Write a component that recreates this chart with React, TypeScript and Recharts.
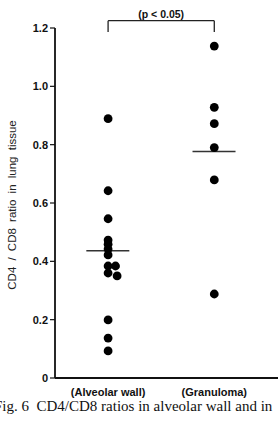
import React from "react";
import {
  ComposedChart,
  Scatter,
  XAxis,
  YAxis,
  ReferenceLine,
} from "recharts";

const categories = ["(Alveolar  wall)", "(Granuloma)"];
const alveolarValues = [0.889, 0.642, 0.546, 0.473, 0.459, 0.442, 0.422, 0.384, 0.384, 0.36, 0.35, 0.199, 0.137, 0.093];
const alveolarJitter = [0, 0, 0, 0, 0, 0, 0, 0, 0.07, 0, 0.085, 0, 0, 0];
const granulomaValues = [1.138, 0.928, 0.872, 0.79, 0.679, 0.288];
const groupMeans = [0.436, 0.777];
const yTicks = [0, 0.2, 0.4, 0.6, 0.8, 1.0, 1.2];
const pLabel = "(p < 0.05)";
const yLabel = "CD4 / CD8 ratio in lung tissue";
const caption = "Fig. 6\u00a0 CD4/CD8 ratios in alveolar wall and in";

const alveolarData = alveolarValues.map((v, i) => ({ x: 0 + alveolarJitter[i], y: v }));
const granulomaData = granulomaValues.map((v) => ({ x: 1, y: v }));

const Dot = (props: any) => {
  const { cx, cy } = props;
  if (cx == null || cy == null) return null;
  return <circle cx={cx} cy={cy} r={4.4} fill="#000" />;
};

const INK = "#111";
const SANS = "Liberation Sans, Arial, sans-serif";

export default function App() {
  return (
    <div
      style={{
        position: "absolute",
        left: 0,
        top: 0,
        width: 278,
        height: 421,
        overflow: "hidden",
        background: "#fff",
      }}
    >
      <ComposedChart
        width={278}
        height={421}
        margin={{ top: 28, right: 0, bottom: 23, left: 0 }}
      >
        <XAxis
          type="number"
          dataKey="x"
          domain={[-0.5, 1.6]}
          ticks={[0, 1]}
          tickFormatter={(i: number) => categories[i]}
          tickLine={false}
          height={20}
          tickMargin={4}
          axisLine={{ stroke: INK, strokeWidth: 1.8 }}
          tick={{ fill: INK, fontSize: 11, fontWeight: "bold", fontFamily: SANS, style: { whiteSpace: "pre" } }}
          allowDataOverflow
        />
        <YAxis
          type="number"
          dataKey="y"
          domain={[0, 1.2]}
          ticks={yTicks}
          width={55}
          tickSize={5}
          tickMargin={2}
          tickFormatter={(v: number) => (v === 0 ? "0" : v.toFixed(1))}
          axisLine={{ stroke: INK, strokeWidth: 1.8 }}
          tickLine={{ stroke: INK, strokeWidth: 1.2 }}
          tick={{ fill: INK, fontSize: 11, fontWeight: "bold", fontFamily: SANS }}
          label={{
            value: yLabel,
            angle: -90,
            position: "center",
            dx: -16,
            dy: 2,
            style: { fill: "#222", fontSize: 11.5, fontFamily: SANS, textAnchor: "middle", wordSpacing: 3 },
          }}
        />
        <ReferenceLine
          segment={[{ x: 0, y: 1.225 }, { x: 1, y: 1.225 }]}
          stroke="#222"
          strokeWidth={1.3}
          ifOverflow="visible"
          label={{
            value: pLabel,
            position: "top",
            offset: 3,
            style: { fill: INK, fontSize: 10.5, fontWeight: "bold", fontFamily: SANS },
          }}
        />
        <ReferenceLine segment={[{ x: 0, y: 1.225 }, { x: 0, y: 1.186 }]} stroke="#222" strokeWidth={1.3} ifOverflow="visible" />
        <ReferenceLine segment={[{ x: 1, y: 1.225 }, { x: 1, y: 1.186 }]} stroke="#222" strokeWidth={1.3} ifOverflow="visible" />
        {groupMeans.map((m, i) => (
          <ReferenceLine
            key={i}
            segment={[{ x: i - 0.205, y: m }, { x: i + 0.2, y: m }]}
            stroke="#333"
            strokeWidth={1.5}
            ifOverflow="visible"
          />
        ))}
        <Scatter data={alveolarData} dataKey="y" shape={<Dot />} isAnimationActive={false} />
        <Scatter data={granulomaData} dataKey="y" shape={<Dot />} isAnimationActive={false} />
      </ComposedChart>
      <div
        style={{
          position: "absolute",
          left: -6,
          top: 398,
          whiteSpace: "nowrap",
          fontFamily: "Liberation Serif, Times New Roman, serif",
          fontSize: 15,
          color: "#111",
          lineHeight: "17px",
        }}
      >
        {caption}
      </div>
    </div>
  );
}
